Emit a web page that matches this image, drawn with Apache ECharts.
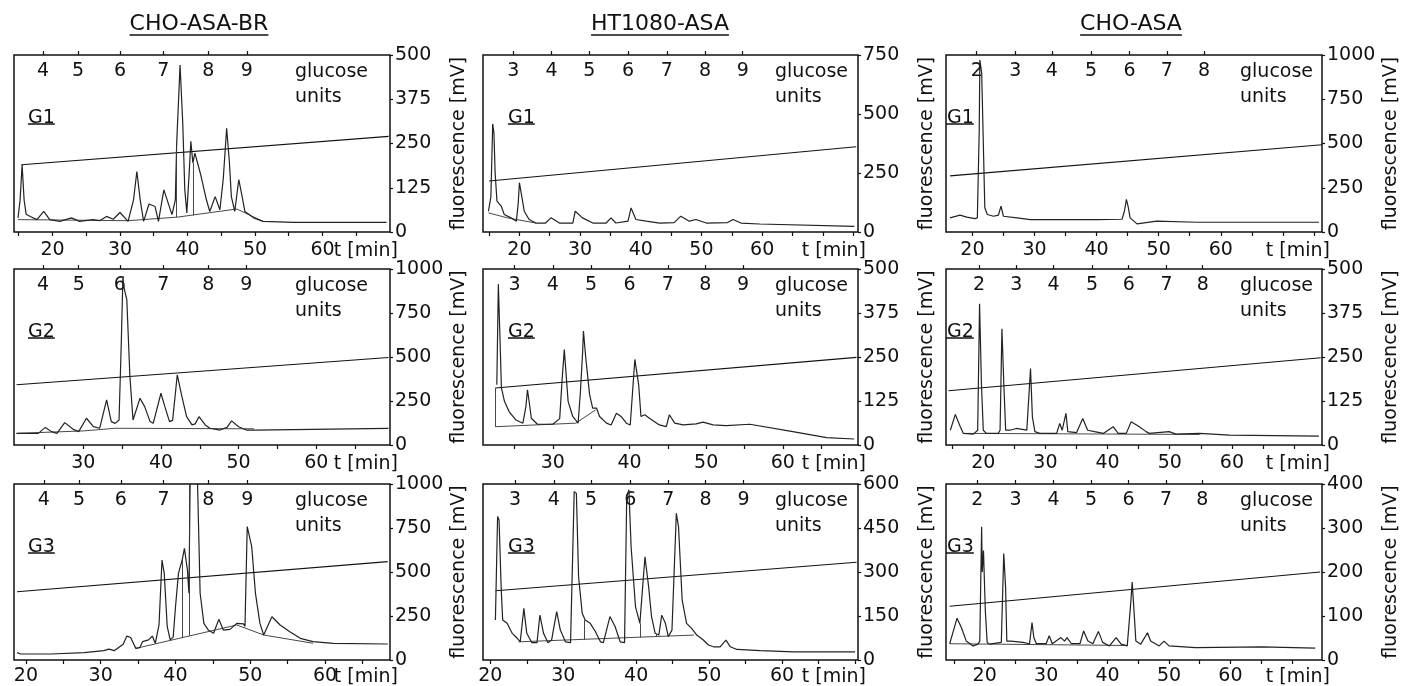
<!DOCTYPE html>
<html>
<head>
<meta charset="utf-8">
<script src="https://cdn.jsdelivr.net/npm/echarts@6/dist/echarts.min.js"></script>
<style>
  html, body { margin: 0; padding: 0; background: #fff; }
  #chart { width: 1401px; height: 686px; }
</style>
</head>
<body>
<div id="chart"></div>
<script>
// column titles (cell lines) and row tags (glycan fractions)
const cellLines = ["CHO-ASA-BR", "HT1080-ASA", "CHO-ASA"];
const glycanTags = ["G1", "G2", "G3"];

// glucose unit label sets
const gu_4_9 = ["4", "5", "6", "7", "8", "9"];
const gu_3_9 = ["3", "4", "5", "6", "7", "8", "9"];
const gu_2_8 = ["2", "3", "4", "5", "6", "7", "8"];

// time tick / label positions [min]
const tLabels_20_60 = [20, 30, 40, 50, 60];
const tLabels_30_60 = [30, 40, 50, 60];
const tTicks_15_65 = [15, 20, 25, 30, 35, 40, 45, 50, 55, 60, 65];
const tTicks_15_70 = [15, 20, 25, 30, 35, 40, 45, 50, 55, 60, 65, 70];
const tTicks_15_75 = [15, 20, 25, 30, 35, 40, 45, 50, 55, 60, 65, 70, 75];
const tTicks_20_75 = [20, 25, 30, 35, 40, 45, 50, 55, 60, 65, 70, 75];
const tTicks_25_65 = [25, 30, 35, 40, 45, 50, 55, 60, 65];
const tTicks_20_65 = [20, 25, 30, 35, 40, 45, 50, 55, 60, 65];
const tTicks_20_70 = [20, 25, 30, 35, 40, 45, 50, 55, 60, 65, 70];

// ---------- CHO-ASA-BR, G1 ----------
const br_g1_trace = [[14.9,40],[15.2,90],[15.5,190],[15.8,90],[16.1,50],[16.7,44],[17.7,35],[18.7,58],[19.6,35],[21.1,30],[22.8,40],[24.0,30],[26.0,35],[27.0,32],[28.0,44],[29.0,36],[30.0,55],[31.2,30],[32.0,90],[32.5,171],[33.0,90],[33.5,30],[34.3,79],[35.2,72],[35.7,30],[36.5,119],[37.7,49],[38.2,90],[38.4,251],[38.9,472],[39.3,307],[39.6,120],[39.9,54],[40.2,150],[40.5,256],[40.8,195],[41.1,223],[41.9,166],[42.8,91],[43.3,58],[44.1,100],[44.8,63],[45.3,150],[45.8,293],[46.2,200],[46.5,100],[47.0,58],[47.6,148],[48.1,100],[48.5,58],[49.8,40],[51.2,30],[55.7,27],[69.5,27]];
const br_g1_base = [[14.9,35],[31.2,32],[38.5,42],[47.3,65],[51.2,30]];
const br_g1_grad = [[15.4,190],[69.8,270]];
const br_g1_drops = [[38.4,251,42],[40.9,195,47]];
const br_g1_gu = [18.6, 23.8, 30.0, 36.4, 43.1, 48.8];

// ---------- HT1080-ASA, G1 ----------
const ht_g1_trace = [[14.9,88],[15.3,150],[15.6,458],[15.8,420],[16.0,250],[16.3,131],[17.0,110],[17.5,74],[18.6,60],[19.5,46],[19.8,120],[20.0,209],[20.4,150],[20.8,88],[21.6,53],[22.7,38],[24.3,38],[25.2,60],[26.6,38],[28.8,38],[29.2,88],[30.4,60],[32.1,38],[34.3,38],[35.1,60],[35.9,38],[37.9,46],[38.4,102],[39.2,53],[40.9,46],[43.1,38],[45.5,40],[46.6,67],[48.0,46],[49.1,53],[50.8,38],[54.3,40],[55.2,53],[56.5,38],[59.6,34],[75.2,24]];
const ht_g1_base = [[14.9,81],[18.0,60],[22.7,38]];
const ht_g1_grad = [[15.0,216],[75.5,361]];
const ht_g1_drops = [];
const ht_g1_gu = [19.0, 25.3, 31.5, 37.9, 44.3, 50.6, 56.8];

// ---------- CHO-ASA, G1 ----------
const cho_g1_trace = [[16.4,80],[18.0,95],[19.1,84],[20.4,76],[20.8,80],[21.1,573],[21.2,972],[21.5,896],[21.8,440],[22.0,137],[22.4,99],[23.4,89],[24.2,95],[24.6,146],[25.0,89],[27.2,80],[29.3,70],[35.0,70],[40.0,70],[44.1,72],[44.5,120],[44.8,184],[45.1,140],[45.4,80],[46.5,46],[49.7,61],[56.2,55],[75.8,55]];
const cho_g1_base = [];
const cho_g1_grad = [[16.4,317],[76.3,493]];
const cho_g1_drops = [];
const cho_g1_gu = [20.7, 26.9, 32.8, 39.1, 45.3, 51.3, 57.3];

// ---------- CHO-ASA-BR, G2 ----------
const br_g2_trace = [[21.4,66],[24.2,66],[25.1,100],[25.9,76],[26.6,66],[27.6,127],[28.7,89],[29.4,76],[30.4,152],[31.3,104],[32.1,95],[33.0,256],[33.6,133],[34.1,123],[34.6,142],[34.9,600],[35.1,958],[35.2,901],[35.6,826],[36.0,389],[36.4,142],[37.3,266],[37.9,218],[38.6,133],[39.0,123],[40.0,294],[40.5,218],[41.1,133],[41.5,140],[42.1,399],[42.7,275],[43.3,161],[44.0,114],[44.4,120],[44.9,161],[45.7,114],[46.3,95],[47.6,85],[48.5,100],[49.1,137],[50.0,104],[51.0,85],[52.1,85],[69.3,95]];
const br_g2_base = [[21.4,66],[30.0,80],[34.1,95],[52.0,92]];
const br_g2_grad = [[21.4,342],[69.3,497]];
const br_g2_drops = [];
const br_g2_gu = [24.8, 29.4, 34.7, 40.3, 46.1, 51.0];

// ---------- HT1080-ASA, G2 ----------
const ht_g2_trace = [[22.7,171],[22.9,457],[23.1,314],[23.3,162],[23.7,124],[24.3,95],[25.2,71],[26.1,62],[26.5,110],[26.7,157],[27.0,110],[27.2,76],[28.0,59],[30.0,59],[30.9,75],[31.2,180],[31.5,271],[32.0,124],[32.6,81],[33.3,62],[33.6,150],[33.9,267],[34.0,324],[34.3,248],[34.8,143],[35.2,105],[35.7,105],[36.1,81],[37.0,62],[37.6,57],[38.3,90],[38.9,81],[39.6,62],[40.1,57],[40.4,150],[40.7,243],[41.2,171],[41.5,81],[42.0,86],[42.6,76],[43.9,57],[44.8,52],[45.2,86],[45.9,62],[47.0,57],[48.7,60],[49.6,65],[50.9,57],[52.6,55],[55.7,59],[61.3,38],[65.7,21],[69.3,17]];
const ht_g2_base = [[22.5,52],[33.0,62],[35.6,100]];
const ht_g2_grad = [[22.5,162],[69.6,249]];
const ht_g2_drops = [[22.5,162,52]];
const ht_g2_gu = [25.0, 30.0, 35.0, 40.0, 45.0, 49.9, 54.8];

// ---------- CHO-ASA, G2 ----------
const cho_g2_trace = [[14.7,42],[15.5,87],[16.3,52],[16.8,33],[18.4,31],[19.1,42],[19.4,401],[19.6,405],[19.7,174],[20.0,42],[20.5,33],[22.4,33],[22.7,42],[23.0,330],[23.3,174],[23.6,42],[24.3,42],[25.3,47],[27.0,42],[27.3,42],[27.6,217],[27.9,80],[28.3,38],[29.1,33],[31.8,33],[32.3,61],[32.7,42],[33.3,90],[33.6,38],[35.0,35],[36.0,75],[36.8,42],[37.9,38],[39.3,33],[40.9,52],[41.7,33],[43.0,33],[43.8,66],[45.1,52],[46.2,38],[46.7,33],[49.9,38],[51.0,31],[54.8,33],[59.6,28],[74.0,25]];
const cho_g2_base = [[16.8,33],[54.8,30]];
const cho_g2_grad = [[14.4,154],[74.3,248]];
const cho_g2_drops = [];
const cho_g2_gu = [19.3, 25.3, 31.3, 37.5, 43.4, 49.5, 55.3];

// ---------- CHO-ASA-BR, G3 ----------
const br_g3_trace = [[18.8,42],[19.3,34],[23.3,34],[27.8,42],[30.4,53],[31.1,62],[31.8,53],[33.0,90],[33.5,136],[34.0,128],[34.7,66],[35.2,70],[35.6,104],[36.4,114],[36.9,136],[37.3,95],[37.8,200],[38.2,568],[38.5,492],[38.9,189],[39.3,114],[39.7,130],[40.0,300],[40.4,492],[40.9,568],[41.2,634],[41.6,511],[41.8,379],[42.0,1150],[42.5,1300],[42.9,1100],[43.3,379],[43.8,208],[44.4,170],[45.1,152],[45.8,231],[46.4,170],[47.3,174],[48.2,208],[49.1,205],[49.3,190],[49.6,758],[50.2,644],[50.7,379],[51.3,208],[51.8,142],[52.9,246],[54.0,199],[55.3,161],[56.7,123],[58.4,104],[61.1,95],[68.4,91]];
const br_g3_base = [[34.7,66],[48.2,199],[51.8,142],[58.4,95]];
const br_g3_grad = [[18.8,388],[68.4,559]];
const br_g3_drops = [[40.9,568,127],[41.9,1000,137]];
const br_g3_gu = [22.4, 27.1, 32.7, 38.4, 44.4, 49.6];

// ---------- HT1080-ASA, G3 ----------
const ht_g3_trace = [[20.7,136],[21.0,489],[21.2,477],[21.5,239],[21.7,136],[22.3,125],[23.0,91],[23.7,74],[24.1,62],[24.6,176],[25.0,91],[25.7,59],[26.4,59],[26.8,153],[27.3,91],[27.9,59],[28.4,68],[29.1,165],[29.6,102],[30.3,62],[31.0,59],[31.5,574],[31.8,568],[32.1,284],[32.6,159],[33.0,136],[33.7,125],[34.4,97],[35.1,62],[35.5,59],[36.4,148],[37.1,114],[37.8,62],[38.4,59],[38.7,557],[39.0,580],[39.3,386],[39.9,182],[40.5,125],[41.2,352],[41.7,250],[42.1,148],[42.6,91],[43.1,85],[43.5,153],[44.0,125],[44.4,80],[44.9,102],[45.5,500],[45.8,454],[46.3,204],[46.9,125],[47.6,108],[48.3,85],[49.2,68],[49.9,51],[50.6,45],[51.5,45],[52.3,68],[52.9,45],[53.8,36],[57.0,32],[61.6,28],[70.0,28]];
const ht_g3_base = [[23.9,62],[47.9,85]];
const ht_g3_grad = [[20.7,236],[70.2,333]];
const ht_g3_drops = [[32.9,136,70],[40.5,125,77],[42.8,88,79]];
const ht_g3_gu = [23.4, 28.7, 33.8, 39.2, 44.4, 49.5, 54.7];

// ---------- CHO-ASA, G3 ----------
const cho_g3_trace = [[14.3,37],[15.5,95],[16.2,74],[17.0,43],[18.1,32],[18.9,36],[19.2,43],[19.5,303],[19.6,200],[19.8,249],[20.1,112],[20.4,40],[20.8,36],[22.7,40],[23.1,242],[23.4,165],[23.6,43],[24.3,43],[26.2,40],[27.3,37],[27.7,85],[28.0,51],[28.4,37],[30.0,37],[30.5,55],[31.0,37],[32.4,51],[33.0,43],[33.4,51],[34.1,37],[35.5,37],[36.1,66],[36.8,43],[37.6,37],[38.5,65],[39.2,40],[40.3,32],[41.4,51],[42.2,36],[43.2,32],[43.8,135],[44.0,177],[44.2,135],[44.6,43],[45.4,36],[46.5,62],[47.0,43],[48.4,32],[49.2,43],[50.0,32],[54.3,28],[65.1,30],[73.8,27]];
const cho_g3_base = [[14.3,37],[43.2,33]];
const cho_g3_grad = [[14.3,122],[74.6,200]];
const cho_g3_drops = [];
const cho_g3_gu = [18.8, 25.0, 31.2, 37.3, 43.4, 49.5, 55.4];

// panel layout (pixels)
const colLeft = [14, 483, 946];
const colWidth = [376, 375, 376];
const rowTop = [55, 269, 484];
const rowHeight = [177, 176, 176];

const FONT = '"DejaVu Sans", sans-serif';
const INK = "#111";

const panels = [
  { row: 0, col: 0, trace: br_g1_trace, base: br_g1_base, grad: br_g1_grad, drops: br_g1_drops, gu: br_g1_gu, guLabels: gu_4_9, x: [14.3, 70], ticks: tTicks_15_65, labels: tLabels_20_60, y: [500, 125] },
  { row: 0, col: 1, trace: ht_g1_trace, base: ht_g1_base, grad: ht_g1_grad, drops: ht_g1_drops, gu: ht_g1_gu, guLabels: gu_3_9, x: [14.0, 75.8], ticks: tTicks_15_75, labels: tLabels_20_60, y: [750, 250] },
  { row: 0, col: 2, trace: cho_g1_trace, base: cho_g1_base, grad: cho_g1_grad, drops: cho_g1_drops, gu: cho_g1_gu, guLabels: gu_2_8, x: [15.75, 76.3], ticks: tTicks_20_75, labels: tLabels_20_60, y: [1000, 250] },
  { row: 1, col: 0, trace: br_g2_trace, base: br_g2_base, grad: br_g2_grad, drops: br_g2_drops, gu: br_g2_gu, guLabels: gu_4_9, x: [21.07, 69.5], ticks: tTicks_25_65, labels: tLabels_30_60, y: [1000, 250] },
  { row: 1, col: 1, trace: ht_g2_trace, base: ht_g2_base, grad: ht_g2_grad, drops: ht_g2_drops, gu: ht_g2_gu, guLabels: gu_3_9, x: [20.9, 69.8], ticks: tTicks_25_65, labels: tLabels_30_60, y: [500, 125] },
  { row: 1, col: 2, trace: cho_g2_trace, base: cho_g2_base, grad: cho_g2_grad, drops: cho_g2_drops, gu: cho_g2_gu, guLabels: gu_2_8, x: [14.0, 74.5], ticks: tTicks_15_70, labels: tLabels_20_60, y: [500, 125] },
  { row: 2, col: 0, trace: br_g3_trace, base: br_g3_base, grad: br_g3_grad, drops: br_g3_drops, gu: br_g3_gu, guLabels: gu_4_9, x: [18.4, 68.7], ticks: tTicks_20_65, labels: tLabels_20_60, y: [1000, 250] },
  { row: 2, col: 1, trace: ht_g3_trace, base: ht_g3_base, grad: ht_g3_grad, drops: ht_g3_drops, gu: ht_g3_gu, guLabels: gu_3_9, x: [19.0, 70.4], ticks: tTicks_20_70, labels: tLabels_20_60, y: [600, 150] },
  { row: 2, col: 2, trace: cho_g3_trace, base: cho_g3_base, grad: cho_g3_grad, drops: cho_g3_drops, gu: cho_g3_gu, guLabels: gu_2_8, x: [13.7, 74.9], ticks: tTicks_15_70, labels: tLabels_20_60, y: [400, 100] }
];

// text width helper for underlines
const measureCtx = document.createElement("canvas").getContext("2d");
const textWidth = (txt, size) => {
  measureCtx.font = size + "px " + FONT;
  return measureCtx.measureText(txt).width;
};

const grids = [];
const xAxes = [];
const yAxes = [];
const series = [];
const graphics = [];

panels.forEach((p, i) => {
  const left = colLeft[p.col];
  const top = rowTop[p.row];
  const w = colWidth[p.col];
  const h = rowHeight[p.row];

  grids.push({
    left: left, top: top, width: w, height: h,
    show: true, borderColor: INK, borderWidth: 1.5,
    outerBoundsMode: "none", containLabel: false
  });

  // bottom time axis
  xAxes.push({
    type: "value", gridIndex: i, position: "bottom",
    min: p.x[0], max: p.x[1],
    axisLine: { show: false },
    splitLine: { show: false },
    axisTick: { show: true, customValues: p.ticks, length: 4, lineStyle: { color: INK, width: 1.2 } },
    axisLabel: { customValues: p.labels, margin: p.row === 2 ? 7 : 9, color: INK, fontSize: 19, fontFamily: FONT }
  });

  // top glucose-unit axis
  xAxes.push({
    type: "value", gridIndex: i, position: "top",
    min: p.x[0], max: p.x[1],
    axisLine: { show: false },
    splitLine: { show: false },
    axisTick: { show: true, customValues: p.gu, length: 4, lineStyle: { color: INK, width: 1.2 } },
    axisLabel: {
      customValues: p.gu, inside: true, margin: 7, color: INK, fontSize: 19, fontFamily: FONT,
      formatter: (v) => {
        const k = p.gu.findIndex((g) => Math.abs(g - v) < 1e-6);
        return k < 0 ? "" : p.guLabels[k];
      }
    }
  });

  // right fluorescence axis
  yAxes.push({
    type: "value", gridIndex: i, position: "right",
    min: 0, max: p.y[0], interval: p.y[1],
    axisLine: { show: false },
    splitLine: { show: false },
    axisTick: { show: true, length: 3, lineStyle: { color: INK, width: 1.2 } },
    axisLabel: { margin: 5, color: INK, fontSize: 19, fontFamily: FONT, formatter: (v) => String(v) },
    name: "fluorescence [mV]",
    nameLocation: "middle",
    nameGap: 60,
    nameMoveOverlap: false,
    nameTextStyle: { color: INK, fontSize: 19, fontFamily: FONT }
  });

  // chromatogram trace
  series.push({
    type: "line", xAxisIndex: 2 * i, yAxisIndex: i,
    data: p.trace, symbol: "none", clip: true, z: 4,
    lineStyle: { color: "#222", width: 1.2 },
    markLine: p.drops.length ? {
      silent: true, symbol: ["none", "none"], label: { show: false },
      lineStyle: { color: "#333", width: 0.9, type: "solid" },
      data: p.drops.map((d) => [{ coord: [d[0], d[1]] }, { coord: [d[0], d[2]] }])
    } : undefined
  });

  // gradient line
  series.push({
    type: "line", xAxisIndex: 2 * i, yAxisIndex: i,
    data: p.grad, symbol: "none", z: 3,
    lineStyle: { color: INK, width: 1.1 }
  });

  // integration baseline
  if (p.base.length) {
    series.push({
      type: "line", xAxisIndex: 2 * i, yAxisIndex: i,
      data: p.base, symbol: "none", z: 3,
      lineStyle: { color: "#333", width: 0.9 }
    });
  }

  // G tag (underlined)
  const gX = left + [14, 25, 1][p.col];
  const tag = glycanTags[p.row];
  const tagW = textWidth(tag, 19);
  graphics.push({
    type: "text", x: gX, y: top + 63,
    style: { text: tag, fill: INK, fontSize: 19, fontFamily: FONT, align: "left", verticalAlign: "middle" }
  });
  graphics.push({
    type: "line",
    shape: { x1: p.col === 2 ? left : gX, y1: top + 69, x2: gX + tagW, y2: top + 69 },
    style: { stroke: INK, lineWidth: 1.5 }
  });

  // "glucose units"
  const guX = left + [281, 292, 294][p.col];
  graphics.push({
    type: "text", x: guX, y: top + 17,
    style: { text: "glucose", fill: INK, fontSize: 19, fontFamily: FONT, align: "left", verticalAlign: "middle" }
  });
  graphics.push({
    type: "text", x: guX, y: top + 42,
    style: { text: "units", fill: INK, fontSize: 19, fontFamily: FONT, align: "left", verticalAlign: "middle" }
  });

  // "t [min]"
  graphics.push({
    type: "text", x: left + w + 8, y: top + h + (p.row === 2 ? 17 : 19),
    style: { text: "t [min]", fill: INK, fontSize: 19, fontFamily: FONT, align: "right", verticalAlign: "middle" }
  });
});

// column titles
const titleX = [199, 660, 1131];
cellLines.forEach((name, c) => {
  const tw = textWidth(name, 22);
  graphics.push({
    type: "text", x: titleX[c], y: 24,
    style: { text: name, fill: INK, fontSize: 22, fontFamily: FONT, align: "center", verticalAlign: "middle" }
  });
  graphics.push({
    type: "line",
    shape: { x1: titleX[c] - tw / 2, y1: 35, x2: titleX[c] + tw / 2, y2: 35 },
    style: { stroke: INK, lineWidth: 1.3 }
  });
});

const chart = echarts.init(document.getElementById("chart"), null, { renderer: "canvas" });
chart.setOption({
  animation: false,
  backgroundColor: "#fff",
  grid: grids,
  xAxis: xAxes,
  yAxis: yAxes,
  series: series,
  graphic: graphics
});
</script>
</body>
</html>
